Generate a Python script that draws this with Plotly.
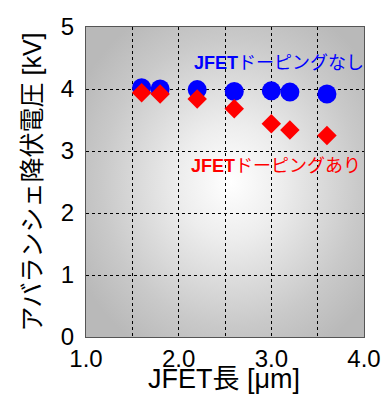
import base64
import plotly.graph_objects as go

# Data
jfet_length = [1.6, 1.8, 2.2, 2.6, 3.0, 3.2, 3.6]
bv_undoped = [4.02, 4.00, 3.99, 3.96, 3.97, 3.95, 3.92]
bv_doped = [3.94, 3.92, 3.84, 3.68, 3.44, 3.34, 3.25]
x_tickvals = [1.0, 1.5, 2.0, 2.5, 3.0, 3.5, 4.0]
x_ticktext = ["1.0", "", "2.0", "", "3.0", "", "4.0"]
y_tickvals = [0, 1, 2, 3, 4, 5]

FONT = "Arial, 'Liberation Sans', 'Noto Sans CJK JP', sans-serif"

svg = ("<svg xmlns='http://www.w3.org/2000/svg' width='300' height='300' preserveAspectRatio='none'>"
       "<defs><radialGradient id='g' cx='0.52' cy='0.5' r='0.62'>"
       "<stop offset='0' stop-color='#ffffff'/><stop offset='0.3' stop-color='#ededed'/>"
       "<stop offset='0.75' stop-color='#c9c9c9'/>"
       "<stop offset='1' stop-color='#b9b9b9'/></radialGradient></defs>"
       "<rect width='300' height='300' fill='url(#g)'/></svg>")
svg_uri = "data:image/svg+xml;base64," + base64.b64encode(svg.encode()).decode()

fig = go.Figure()
fig.add_trace(go.Scatter(x=jfet_length, y=bv_undoped, mode="markers",
                         marker=dict(symbol="circle", size=19, color="#0000ff"),
                         showlegend=False))
fig.add_trace(go.Scatter(x=jfet_length, y=bv_doped, mode="markers",
                         marker=dict(symbol="diamond", size=15, color="#ff0000"),
                         showlegend=False))

fig.add_annotation(x=3.08, y=4.42, text="<b>JFET</b>ドーピングなし", showarrow=False,
                   font=dict(family=FONT, size=18, color="#0000ff"))
fig.add_annotation(x=3.05, y=2.76, text="<b>JFET</b>ドーピングあり", showarrow=False,
                   font=dict(family=FONT, size=18, color="#ff0000"))
# x-axis title
fig.add_annotation(xref="paper", yref="paper", x=0.496, y=-0.137, yanchor="middle",
                   text="JFET長 [μm]", showarrow=False,
                   font=dict(family=FONT, size=27, color="#000000"))

fig.add_layout_image(dict(source=svg_uri, xref="paper", yref="paper", x=0, y=1,
                          sizex=1, sizey=1, sizing="stretch", layer="below",
                          xanchor="left", yanchor="top"))

axis_common = dict(showgrid=True, gridcolor="#000000", gridwidth=1, griddash="3px,3px",
                   showline=True, linecolor="#555555", linewidth=1, mirror=True,
                   ticks="", zeroline=False, automargin=False,
                   tickfont=dict(family=FONT, size=24, color="#000000"))

fig.update_xaxes(range=[1.0, 4.0], tickvals=x_tickvals, ticktext=x_ticktext,
                 ticklabelstandoff=0, **axis_common)
fig.update_yaxes(range=[0, 5], tickvals=y_tickvals, ticklabelstandoff=6,
                 title=dict(text="アバランシェ降伏電圧 [kV]",
                            font=dict(family=FONT, size=25, color="#000000"), standoff=12),
                 **axis_common)

fig.update_layout(width=387, height=398, margin=dict(l=86, r=23, t=27, b=61),
                  paper_bgcolor="#ffffff", plot_bgcolor="#c0c0c0",
                  font=dict(family=FONT))

fig.write_html("out.html", config={"displayModeBar": False},
               post_script="document.body.style.margin='0';")
